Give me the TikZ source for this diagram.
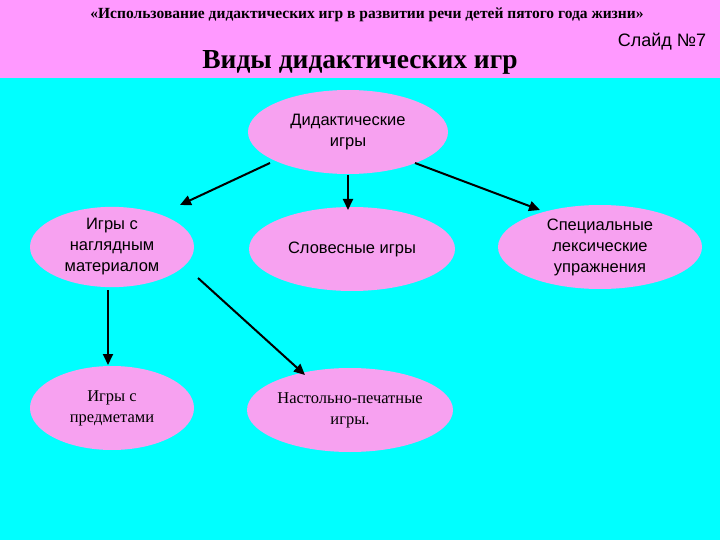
\documentclass[tikz,border=0pt]{standalone}
\usepackage{fontspec}
\setmainfont{Liberation Serif}
\newfontfamily\sans{Liberation Sans}
\usetikzlibrary{shapes.geometric,arrows.meta,calc}
\definecolor{hdr}{HTML}{FF99FF}
\definecolor{ell}{HTML}{F7A1F0}
\definecolor{bg}{HTML}{00FFFF}
\tikzset{
  oval/.style={ellipse,fill=ell,draw=none,minimum width=#1,align=center,inner sep=0pt},
  sf/.style={font=\sans\fontsize{16.5}{21}\selectfont},
  rm/.style={font=\fontsize{16.5}{21}\selectfont},
  arr/.style={-{Triangle[length=11pt,width=10pt]},line width=2pt,black}
}
\begin{document}
\begin{tikzpicture}[x=1pt,y=-1pt]
\useasboundingbox (0,0) rectangle (720,540);
\fill[bg] (0,0) rectangle (720,540);
\fill[hdr] (0,0) rectangle (720,78);
\node[font=\bfseries\fontsize{15.5}{18}\selectfont] (t1) at (367,15) {«Использование дидактических игр в развитии речи детей пятого года жизни»};
\node[font=\bfseries\fontsize{27.5}{32}\selectfont] (t2) at (360,62) {Виды дидактических игр};
\node[font=\sans\fontsize{18}{21}\selectfont] (t3) at (662,42) {Слайд №7};
\node[oval=200pt,minimum height=84pt,sf] (a) at (348,132) {Дидактические\\игры};
\node[oval=164pt,minimum height=80pt,sf] (b) at (112,247) {Игры с\\наглядным\\материалом};
\node[oval=206pt,minimum height=84pt,sf] (c) at (352,249) {Словесные игры};
\node[oval=204pt,minimum height=84pt,sf] (d) at (600,247) {Специальные\\лексические\\упражнения};
\node[oval=164pt,minimum height=84pt,rm] (e) at (112,408) {Игры с\\предметами};
\node[oval=206pt,minimum height=84pt,rm] (f) at (350,410) {Настольно-печатные\\игры.};
\draw[arr] ($(a)+(-78,31)$) -- ($(b)+(68,-42)$);
\draw[arr] ($(a)+(0,43)$) -- ($(c)+(-4,-39)$);
\draw[arr] ($(a)+(67,31)$) -- ($(d)+(-60,-37)$);
\draw[arr] ($(b)+(-4,43)$) -- ($(e)+(-4,-43)$);
\draw[arr] ($(b)+(86,31)$) -- ($(f)+(-45,-35)$);
\end{tikzpicture}
\end{document}
